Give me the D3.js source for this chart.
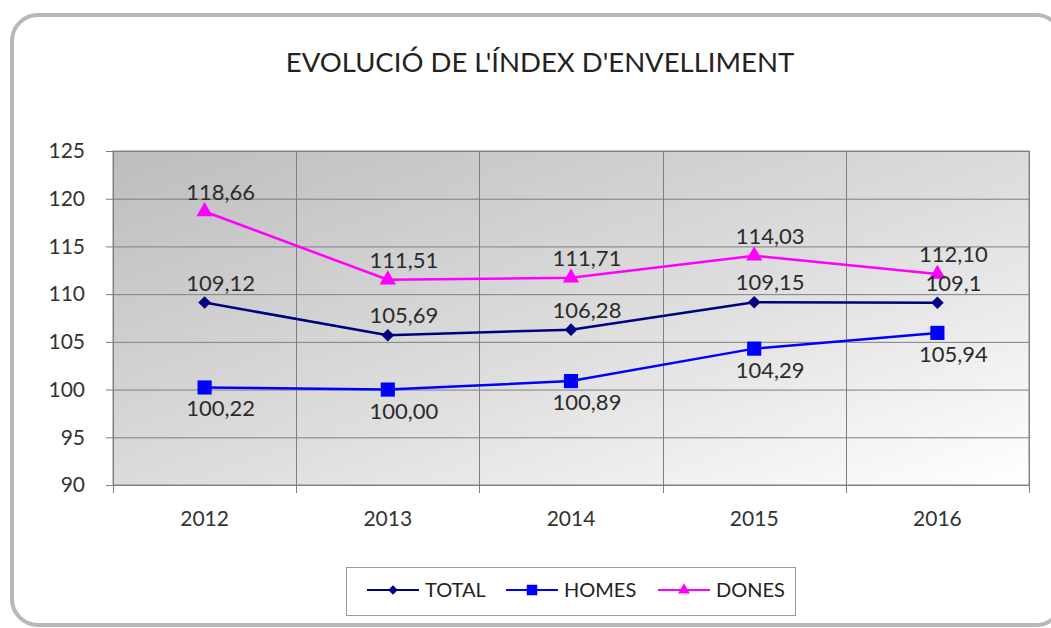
<!DOCTYPE html>
<html>
<head>
<meta charset="utf-8">
<script src="https://cdnjs.cloudflare.com/ajax/libs/d3/7.8.5/d3.min.js"></script>
<style>
  body { margin: 0; background: #fff; }
  svg { display: block; font-family: Lato, 'Open Sans', sans-serif; }
</style>
</head>
<body>
<div class="graph-container"></div>
<script>
// chart data
var years = ['2012', '2013', '2014', '2015', '2016'];
var totalValues = [109.12, 105.69, 106.28, 109.15, 109.1];
var homesValues = [100.22, 100.00, 100.89, 104.29, 105.94];
var donesValues = [118.66, 111.51, 111.71, 114.03, 112.10];
var totalLabels = ['109,12', '105,69', '106,28', '109,15', '109,1'];
var homesLabels = ['100,22', '100,00', '100,89', '104,29', '105,94'];
var donesLabels = ['118,66', '111,51', '111,71', '114,03', '112,10'];
var yTicks = [90, 95, 100, 105, 110, 115, 120, 125];

var svgWidth = 1051;
var svgHeight = 628;
var plotLeft = 113;
var plotRight = 1029;
var plotTop = 151;
var plotBottom = 485;

// square diamond (excel style), d3's own diamond is too narrow
var symbolRhomb = {
  draw: function(context, size) {
    var r = Math.sqrt(size / 2);
    context.moveTo(0, -r);
    context.lineTo(r, 0);
    context.lineTo(0, r);
    context.lineTo(-r, 0);
    context.closePath();
  }
};

var series = [
  { name: 'TOTAL', values: totalValues, labels: totalLabels, color: '#000080', symbol: symbolRhomb, size: 80, legendSize: 45, labelDy: -12 },
  { name: 'HOMES', values: homesValues, labels: homesLabels, color: '#0000ff', symbol: d3.symbolSquare, size: 200, legendSize: 110, labelDy: 29 },
  { name: 'DONES', values: donesValues, labels: donesLabels, color: '#ff00ff', symbol: d3.symbolTriangle, size: 115, legendSize: 60, labelDy: -12 }
];

function drawChart() {
  var svg = d3.select('.graph-container').append('svg')
    .attr('width', svgWidth)
    .attr('height', svgHeight);

  // plot area gradient
  var defs = svg.append('defs');
  var grad = defs.append('linearGradient')
    .attr('id', 'plotGrad')
    .attr('x1', 0).attr('y1', 0)
    .attr('x2', 1).attr('y2', 1);
  grad.append('stop').attr('offset', '0%').attr('stop-color', '#bdbdbd');
  grad.append('stop').attr('offset', '55%').attr('stop-color', '#dedede');
  grad.append('stop').attr('offset', '100%').attr('stop-color', '#ffffff');

  // outer rounded frame
  svg.append('rect')
    .attr('x', 12)
    .attr('y', 15)
    .attr('width', 1050)
    .attr('height', 610)
    .attr('rx', 26)
    .attr('fill', '#fff')
    .attr('stroke', '#b8b8b8')
    .attr('stroke-width', 4);

  var xScale = d3.scaleBand()
    .domain(years)
    .range([plotLeft, plotRight]);

  var yScale = d3.scaleLinear()
    .domain([90, 125])
    .range([plotBottom, plotTop]);

  svg.append('rect')
    .attr('x', plotLeft)
    .attr('y', plotTop)
    .attr('width', plotRight - plotLeft)
    .attr('height', plotBottom - plotTop)
    .attr('fill', 'url(#plotGrad)')
    .attr('stroke', '#888')
    .attr('stroke-width', 1);

  // horizontal grid lines
  svg.append('g')
    .selectAll('line')
    .data(yTicks)
    .enter()
    .append('line')
    .attr('x1', plotLeft - 7)
    .attr('x2', plotRight)
    .attr('y1', function(d) { return yScale(d) + 0.5; })
    .attr('y2', function(d) { return yScale(d) + 0.5; })
    .attr('stroke', '#7f7f7f')
    .attr('stroke-width', 1);

  // vertical grid lines at category boundaries
  var bounds = years.map(function(d) { return xScale(d); }).concat([plotRight]);
  svg.append('g')
    .selectAll('line')
    .data(bounds)
    .enter()
    .append('line')
    .attr('x1', function(d) { return Math.round(d) + 0.5; })
    .attr('x2', function(d) { return Math.round(d) + 0.5; })
    .attr('y1', plotTop)
    .attr('y2', plotBottom + 8)
    .attr('stroke', '#7f7f7f')
    .attr('stroke-width', 1);

  // y axis labels
  var yAxis = d3.axisLeft(yScale).tickValues(yTicks).tickSize(0).tickPadding(0);
  var yg = svg.append('g')
    .attr('transform', 'translate(' + (plotLeft - 28) + ',0)')
    .call(yAxis);
  yg.select('.domain').remove();
  yg.selectAll('text')
    .attr('font-family', 'Lato, sans-serif')
    .attr('font-size', '21px')
    .attr('fill', '#333');

  // x axis labels
  var xAxis = d3.axisBottom(xScale).tickSize(0).tickPadding(0);
  var xg = svg.append('g')
    .attr('transform', 'translate(0,' + (plotBottom + 26) + ')')
    .call(xAxis);
  xg.select('.domain').remove();
  xg.selectAll('text')
    .attr('font-family', 'Lato, sans-serif')
    .attr('font-size', '21px')
    .attr('fill', '#333');

  var line = d3.line()
    .x(function(d, i) { return xScale(years[i]) + xScale.bandwidth() / 2; })
    .y(function(d) { return yScale(d); });

  series.forEach(function(s) {
    svg.append('path')
      .datum(s.values)
      .attr('d', line)
      .attr('fill', 'none')
      .attr('stroke', s.color)
      .attr('stroke-width', 2.5);

    svg.append('g')
      .selectAll('path')
      .data(s.values)
      .enter()
      .append('path')
      .attr('d', d3.symbol().type(s.symbol).size(s.size))
      .attr('transform', function(d, i) {
        return 'translate(' + (xScale(years[i]) + xScale.bandwidth() / 2) + ',' + yScale(d) + ')';
      })
      .attr('fill', s.color);
  });

  // data labels
  series.forEach(function(s) {
    svg.append('g')
      .selectAll('text')
      .data(s.values)
      .enter()
      .append('text')
      .attr('x', function(d, i) { return xScale(years[i]) + xScale.bandwidth() / 2 + 16; })
      .attr('y', function(d) { return yScale(d) + s.labelDy; })
      .attr('text-anchor', 'middle')
      .attr('font-size', '22px')
      .attr('fill', '#2b2b2b')
      .text(function(d, i) { return s.labels[i]; });
  });

  // title
  svg.append('text')
    .attr('x', 540)
    .attr('y', 72)
    .attr('text-anchor', 'middle')
    .attr('font-size', '27.5px')
    .attr('fill', '#222')
    .text("EVOLUCIÓ DE L'ÍNDEX D'ENVELLIMENT");

  // legend
  var legend = svg.append('g');
  legend.append('rect')
    .attr('x', 346.5)
    .attr('y', 567.5)
    .attr('width', 449)
    .attr('height', 48)
    .attr('fill', '#fff')
    .attr('stroke', '#9a9a9a');

  var legendX = [367, 506, 658];
  series.forEach(function(s, i) {
    var lx = legendX[i];
    legend.append('line')
      .attr('x1', lx)
      .attr('x2', lx + 52)
      .attr('y1', 590)
      .attr('y2', 590)
      .attr('stroke', s.color)
      .attr('stroke-width', 2);
    legend.append('path')
      .attr('d', d3.symbol().type(s.symbol).size(s.legendSize))
      .attr('transform', 'translate(' + (lx + 26) + ',590)')
      .attr('fill', s.color);
    legend.append('text')
      .attr('x', lx + 58)
      .attr('y', 597)
      .attr('font-size', '20px')
      .attr('fill', '#222')
      .text(s.name);
  });
}

drawChart();
</script>
</body>
</html>
